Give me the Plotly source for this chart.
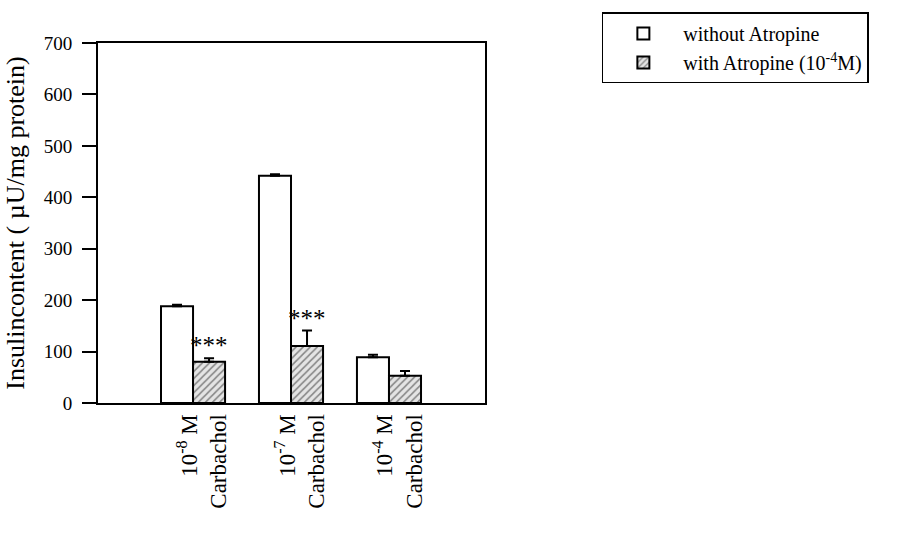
import plotly.graph_objects as go

categories = ["10<sup>-8</sup> M<br>Carbachol", "10<sup>-7</sup> M<br>Carbachol", "10<sup>-4</sup> M<br>Carbachol"]
x_pos = [1, 2, 3]
without_atropine = [188, 442, 89]
without_err = [3, 3, 5]
with_atropine = [80, 111, 53]
with_err = [7, 30, 9]
stars = ["***", "***", ""]

FONT = "Liberation Serif"

fig = go.Figure()
fig.add_trace(go.Bar(
    x=x_pos, y=without_atropine, name="without Atropine",
    marker=dict(color="white", line=dict(color="black", width=2)),
    error_y=dict(type="data", symmetric=False, array=without_err, arrayminus=[0, 0, 0],
                 color="black", thickness=2, width=5),
))
fig.add_trace(go.Bar(
    x=x_pos, y=with_atropine, name="with Atropine (10<sup>-4</sup>M)",
    marker=dict(color="white", line=dict(color="black", width=2),
                pattern=dict(shape="/", fgcolor="#222222", bgcolor="#e4e4e4", size=5, solidity=0.3)),
    error_y=dict(type="data", symmetric=False, array=with_err, arrayminus=[0, 0, 0],
                 color="black", thickness=2, width=5),
))

for xi, yv, ev, s in zip(x_pos, with_atropine, with_err, stars):
    if s:
        fig.add_annotation(x=xi + 0.165, y=yv + ev - 6, text=s, showarrow=False,
                           yanchor="bottom", font=dict(family=FONT, size=25, color="black"))

fig.update_layout(
    width=912, height=549,
    margin=dict(l=98, r=427, t=40, b=146),
    paper_bgcolor="white", plot_bgcolor="white",
    barmode="group", bargap=0.346, bargroupgap=0,
    font=dict(family=FONT, color="black"),
    showlegend=True,
    legend=dict(x=1.302, y=1.085, xanchor="left", yanchor="top",
                bordercolor="black", borderwidth=1.5, bgcolor="white",
                font=dict(family=FONT, size=20, color="black"),
                itemwidth=70, tracegroupgap=2),
)
fig.update_xaxes(range=[0.03, 3.98], tickvals=x_pos, ticktext=categories, tickangle=-90,
                 showline=True, linecolor="black", linewidth=2, mirror=True,
                 ticks="", showgrid=False, zeroline=False, ticklabelshift=11,
                 tickfont=dict(family=FONT, size=23, color="black"))
fig.update_yaxes(range=[0, 700], dtick=100, showline=True, linecolor="black", linewidth=2,
                 mirror=True, ticks="outside", ticklen=14, tickwidth=2, tickcolor="black",
                 ticklabelstandoff=6,
                 showgrid=False, zeroline=False,
                 tickfont=dict(family=FONT, size=19, color="black"),
                 title=dict(text="Insulincontent ( µU/mg protein)", standoff=12,
                            font=dict(family=FONT, size=26, color="black")))

fig.write_html("out.html")
